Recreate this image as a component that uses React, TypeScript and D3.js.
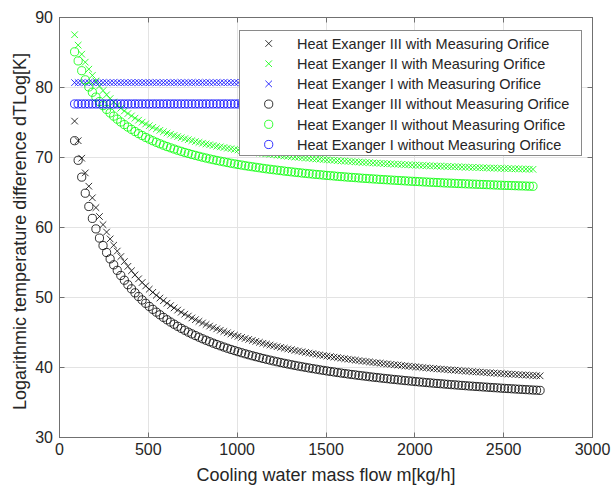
import React from 'react';
import * as d3 from 'd3';

const flowIII = d3.range(85, 2706, 20);
const flowII = d3.range(85, 2666, 20);
const flowI = d3.range(85, 2706, 20);

const dtIIIWith = [75.2, 72.4, 69.9, 67.8, 65.9, 64.24, 62.84, 61.57, 60.41, 59.35,
  58.37, 57.47, 56.63, 55.85, 55.13, 54.45, 53.82, 53.23, 52.67, 52.14,
  51.65, 51.18, 50.74, 50.32, 49.92, 49.54, 49.18, 48.84, 48.51, 48.2,
  47.9, 47.62, 47.35, 47.08, 46.83, 46.59, 46.36, 46.14, 45.92, 45.72,
  45.52, 45.32, 45.14, 44.96, 44.79, 44.62, 44.46, 44.3, 44.15, 44.01,
  43.86, 43.73, 43.59, 43.46, 43.34, 43.21, 43.09, 42.98, 42.87, 42.76,
  42.65, 42.55, 42.44, 42.35, 42.25, 42.16, 42.06, 41.98, 41.89, 41.8,
  41.72, 41.64, 41.56, 41.48, 41.41, 41.33, 41.26, 41.19, 41.12, 41.05,
  40.99, 40.92, 40.86, 40.8, 40.73, 40.67, 40.62, 40.56, 40.5, 40.45,
  40.39, 40.34, 40.29, 40.24, 40.19, 40.14, 40.09, 40.04, 39.99, 39.95,
  39.9, 39.86, 39.81, 39.77, 39.73, 39.69, 39.65, 39.61, 39.57, 39.53,
  39.49, 39.45, 39.41, 39.38, 39.34, 39.31, 39.27, 39.24, 39.2, 39.17,
  39.14, 39.11, 39.07, 39.04, 39.01, 38.98, 38.95, 38.92, 38.89, 38.86,
  38.84, 38.81];

const dtIIWith = [87.54, 86.05, 84.76, 83.62, 82.62, 81.73, 80.93, 80.21, 79.56, 78.96,
  78.42, 77.92, 77.46, 77.04, 76.65, 76.28, 75.94, 75.62, 75.33, 75.05,
  74.79, 74.54, 74.31, 74.09, 73.88, 73.68, 73.5, 73.32, 73.15, 72.99,
  72.83, 72.69, 72.55, 72.41, 72.28, 72.16, 72.04, 71.93, 71.82, 71.72,
  71.61, 71.52, 71.42, 71.33, 71.25, 71.16, 71.08, 71.0, 70.93, 70.85,
  70.78, 70.71, 70.64, 70.58, 70.52, 70.46, 70.4, 70.34, 70.28, 70.23,
  70.17, 70.12, 70.07, 70.02, 69.98, 69.93, 69.88, 69.84, 69.8, 69.76,
  69.71, 69.67, 69.63, 69.6, 69.56, 69.52, 69.49, 69.45, 69.42, 69.38,
  69.35, 69.32, 69.29, 69.26, 69.23, 69.2, 69.17, 69.14, 69.11, 69.09,
  69.06, 69.03, 69.01, 68.98, 68.96, 68.93, 68.91, 68.89, 68.87, 68.84,
  68.82, 68.8, 68.78, 68.76, 68.74, 68.72, 68.7, 68.68, 68.66, 68.64,
  68.62, 68.6, 68.58, 68.57, 68.55, 68.53, 68.51, 68.5, 68.48, 68.46,
  68.45, 68.43, 68.42, 68.4, 68.39, 68.37, 68.36, 68.34, 68.33, 68.31];

const dtIWith = [80.7, 80.7, 80.7, 80.7, 80.7, 80.7, 80.7, 80.7, 80.7, 80.7, 80.7, 80.7,
  80.7, 80.7, 80.7, 80.7, 80.7, 80.7, 80.7, 80.7, 80.7, 80.7, 80.7, 80.7,
  80.7, 80.7, 80.7, 80.7, 80.7, 80.7, 80.7, 80.7, 80.7, 80.7, 80.7, 80.7,
  80.7, 80.7, 80.7, 80.7, 80.7, 80.7, 80.7, 80.7, 80.7, 80.7, 80.7, 80.7,
  80.7, 80.7, 80.7, 80.7, 80.7, 80.7, 80.7, 80.7, 80.7, 80.7, 80.7, 80.7,
  80.7, 80.7, 80.7, 80.7, 80.7, 80.7, 80.7, 80.7, 80.7, 80.7, 80.7, 80.7,
  80.7, 80.7, 80.7, 80.7, 80.7, 80.7, 80.7, 80.7, 80.7, 80.7, 80.7, 80.7,
  80.7, 80.7, 80.7, 80.7, 80.7, 80.7, 80.7, 80.7, 80.7, 80.7, 80.7, 80.7,
  80.7, 80.7, 80.7, 80.7, 80.7, 80.7, 80.7, 80.7, 80.7, 80.7, 80.7, 80.7,
  80.7, 80.7, 80.7, 80.7, 80.7, 80.7, 80.7, 80.7, 80.7, 80.7, 80.7, 80.7,
  80.7, 80.7, 80.7, 80.7, 80.7, 80.7, 80.7, 80.7, 80.7, 80.7, 80.7, 80.7];

const dtIIIWithout = [72.4, 69.6, 67.2, 64.9, 63.0, 61.3, 59.8, 58.49, 57.42, 56.43,
  55.52, 54.67, 53.88, 53.15, 52.47, 51.83, 51.24, 50.67, 50.14, 49.65,
  49.17, 48.73, 48.31, 47.91, 47.53, 47.16, 46.82, 46.49, 46.18, 45.88,
  45.59, 45.32, 45.05, 44.8, 44.56, 44.33, 44.1, 43.89, 43.68, 43.48,
  43.29, 43.1, 42.92, 42.75, 42.58, 42.42, 42.26, 42.11, 41.96, 41.82,
  41.68, 41.55, 41.42, 41.29, 41.17, 41.05, 40.93, 40.82, 40.71, 40.6,
  40.5, 40.4, 40.3, 40.2, 40.11, 40.02, 39.93, 39.84, 39.76, 39.67,
  39.59, 39.51, 39.43, 39.36, 39.28, 39.21, 39.14, 39.07, 39.0, 38.94,
  38.87, 38.81, 38.75, 38.68, 38.62, 38.57, 38.51, 38.45, 38.4, 38.34,
  38.29, 38.24, 38.19, 38.13, 38.09, 38.04, 37.99, 37.94, 37.9, 37.85,
  37.81, 37.76, 37.72, 37.68, 37.64, 37.6, 37.55, 37.52, 37.48, 37.44,
  37.4, 37.36, 37.33, 37.29, 37.26, 37.22, 37.19, 37.15, 37.12, 37.09,
  37.05, 37.02, 36.99, 36.96, 36.93, 36.9, 36.87, 36.84, 36.81, 36.78,
  36.76, 36.73];

const dtIIWithout = [85.1, 83.8, 82.4, 81.1, 80.08, 79.32, 78.63, 77.99, 77.41, 76.87,
  76.37, 75.91, 75.48, 75.07, 74.7, 74.35, 74.02, 73.71, 73.41, 73.14,
  72.87, 72.63, 72.39, 72.17, 71.96, 71.76, 71.56, 71.38, 71.21, 71.04,
  70.88, 70.72, 70.58, 70.43, 70.3, 70.17, 70.04, 69.92, 69.8, 69.69,
  69.58, 69.48, 69.38, 69.28, 69.18, 69.09, 69.0, 68.92, 68.83, 68.75,
  68.68, 68.6, 68.53, 68.45, 68.38, 68.32, 68.25, 68.19, 68.13, 68.06,
  68.01, 67.95, 67.89, 67.84, 67.78, 67.73, 67.68, 67.63, 67.58, 67.54,
  67.49, 67.44, 67.4, 67.36, 67.31, 67.27, 67.23, 67.19, 67.16, 67.12,
  67.08, 67.04, 67.01, 66.97, 66.94, 66.91, 66.87, 66.84, 66.81, 66.78,
  66.75, 66.72, 66.69, 66.66, 66.63, 66.6, 66.58, 66.55, 66.52, 66.5,
  66.47, 66.45, 66.42, 66.4, 66.37, 66.35, 66.33, 66.31, 66.28, 66.26,
  66.24, 66.22, 66.2, 66.18, 66.16, 66.14, 66.12, 66.1, 66.08, 66.06,
  66.04, 66.02, 66.01, 65.99, 65.97, 65.95, 65.94, 65.92, 65.9, 65.89];

const dtIWithout = [77.65, 77.65, 77.65, 77.65, 77.65, 77.65, 77.65, 77.65, 77.65, 77.65, 77.65, 77.65,
  77.65, 77.65, 77.65, 77.65, 77.65, 77.65, 77.65, 77.65, 77.65, 77.65, 77.65, 77.65,
  77.65, 77.65, 77.65, 77.65, 77.65, 77.65, 77.65, 77.65, 77.65, 77.65, 77.65, 77.65,
  77.65, 77.65, 77.65, 77.65, 77.65, 77.65, 77.65, 77.65, 77.65, 77.65, 77.65, 77.65,
  77.65, 77.65, 77.65, 77.65, 77.65, 77.65, 77.65, 77.65, 77.65, 77.65, 77.65, 77.65,
  77.65, 77.65, 77.65, 77.65, 77.65, 77.65, 77.65, 77.65, 77.65, 77.65, 77.65, 77.65,
  77.65, 77.65, 77.65, 77.65, 77.65, 77.65, 77.65, 77.65, 77.65, 77.65, 77.65, 77.65,
  77.65, 77.65, 77.65, 77.65, 77.65, 77.65, 77.65, 77.65, 77.65, 77.65, 77.65, 77.65,
  77.65, 77.65, 77.65, 77.65, 77.65, 77.65, 77.65, 77.65, 77.65, 77.65, 77.65, 77.65,
  77.65, 77.65, 77.65, 77.65, 77.65, 77.65, 77.65, 77.65, 77.65, 77.65, 77.65, 77.65,
  77.65, 77.65, 77.65, 77.65, 77.65, 77.65, 77.65, 77.65, 77.65, 77.65, 77.65, 77.65];

const seriesNames = [
  'Heat Exanger III with Measuring Orifice',
  'Heat Exanger II with Measuring Orifice',
  'Heat Exanger I with Measuring Orifice',
  'Heat Exanger III without Measuring Orifice',
  'Heat Exanger II without Measuring Orifice',
  'Heat Exanger I without Measuring Orifice',
];
const seriesColors = ['#000000', '#00ff00', '#0000ff', '#000000', '#00ff00', '#0000ff'];
const seriesMarkers = ['x', 'x', 'x', 'o', 'o', 'o'];
const seriesFlows = [flowIII, flowII, flowI, flowIII, flowII, flowI];
const seriesValues = [dtIIIWith, dtIIWith, dtIWith, dtIIIWithout, dtIIWithout, dtIWithout];

const xTicks = [0, 500, 1000, 1500, 2000, 2500, 3000];
const yTicks = [30, 40, 50, 60, 70, 80, 90];
const xLabel = 'Cooling water mass flow m[kg/h]';
const yLabel = 'Logarithmic temperature difference dTLog[K]';

const FONT = '"Liberation Sans", Arial, Helvetica, sans-serif';
const TEXT = '#262626';

const crisp = (v: number) => Math.round(v - 0.5) + 0.5;

function Marker({ type, cx, cy, color }: { type: string; cx: number; cy: number; color: string }) {
  if (type === 'x') {
    const s = 3.3;
    return (
      <path
        d={`M${cx - s},${cy - s}L${cx + s},${cy + s}M${cx - s},${cy + s}L${cx + s},${cy - s}`}
        stroke={color}
        strokeWidth={0.8}
        fill="none"
      />
    );
  }
  return <circle cx={cx} cy={cy} r={4.1} stroke={color} strokeWidth={0.8} fill="none" />;
}

export default function App() {
  const left = 59.5, right = 592.5, top = 17.5, bottom = 437.5;
  const x = d3.scaleLinear().domain([0, 3000]).range([left, right]);
  const y = d3.scaleLinear().domain([30, 90]).range([bottom, top]);
  const tick = 5;

  const legX = 239.5, legY = 30.5, legW = 342, legH = 125;
  const rowY0 = 43.5, rowStep = 20.2;

  return (
    <svg width={611} height={491} style={{ position: 'absolute', left: 0, top: 0, background: '#fff' }}
      fontFamily={FONT}>
      <rect x={0} y={0} width={611} height={491} fill="#fff" />
      {/* grid */}
      <g stroke="#e3e3e3" strokeWidth={1}>
        {xTicks.slice(1, -1).map((t) => (
          <line key={'gx' + t} x1={crisp(x(t))} x2={crisp(x(t))} y1={top} y2={bottom} />
        ))}
        {yTicks.slice(1, -1).map((t) => (
          <line key={'gy' + t} x1={left} x2={right} y1={crisp(y(t))} y2={crisp(y(t))} />
        ))}
      </g>
      {/* data */}
      {seriesValues.map((vals, si) => (
        <g key={'s' + si}>
          {vals.map((v, i) => (
            <Marker key={i} type={seriesMarkers[si]} cx={x(seriesFlows[si][i])} cy={y(v)} color={seriesColors[si]} />
          ))}
        </g>
      ))}
      {/* axes box and ticks */}
      <g stroke="#707070" strokeWidth={1} fill="none">
        <rect x={left} y={top} width={right - left} height={bottom - top} />
        {xTicks.map((t) => (
          <g key={'tx' + t}>
            <line x1={crisp(x(t))} x2={crisp(x(t))} y1={bottom} y2={bottom - tick} />
            <line x1={crisp(x(t))} x2={crisp(x(t))} y1={top} y2={top + tick} />
          </g>
        ))}
        {yTicks.map((t) => (
          <g key={'ty' + t}>
            <line x1={left} x2={left + tick} y1={crisp(y(t))} y2={crisp(y(t))} />
            <line x1={right} x2={right - tick} y1={crisp(y(t))} y2={crisp(y(t))} />
          </g>
        ))}
      </g>
      {/* tick labels */}
      <g fill={TEXT} fontSize={16}>
        {xTicks.map((t) => (
          <text key={'lx' + t} x={x(t)} y={455} textAnchor="middle">{t}</text>
        ))}
        {yTicks.map((t) => (
          <text key={'ly' + t} x={53} y={y(t) + 5.7} textAnchor="end">{t}</text>
        ))}
      </g>
      {/* axis titles */}
      <text x={(left + right) / 2} y={481} textAnchor="middle" fontSize={18} fill={TEXT}>{xLabel}</text>
      <text transform={`translate(25.5,${(top + bottom) / 2 + 4}) rotate(-90)`} textAnchor="middle" fontSize={18} fill={TEXT}>
        {yLabel}
      </text>
      {/* legend */}
      <g>
        <rect x={legX} y={legY} width={legW} height={legH} fill="#fff" stroke="#8a8a8a" strokeWidth={1} />
        {seriesNames.map((name, i) => {
          const cy = rowY0 + i * rowStep;
          return (
            <g key={'lg' + i}>
              <Marker type={seriesMarkers[i]} cx={268.7} cy={cy} color={seriesColors[i]} />
              <text x={297} y={cy + 5.2} fontSize={14.5} fill={TEXT}>{name}</text>
            </g>
          );
        })}
      </g>
    </svg>
  );
}
